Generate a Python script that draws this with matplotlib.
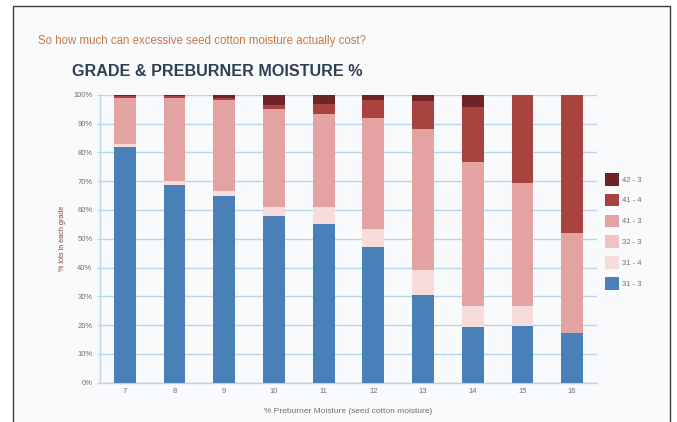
import numpy as np
import matplotlib
matplotlib.use("Agg")
import matplotlib.pyplot as plt
from matplotlib.patches import Rectangle, Patch

plt.rcParams['font.family'] = ['Liberation Sans', 'DejaVu Sans']

# preburner moisture levels and share of lots in each grade (%)
moisture = ['7', '8', '9', '10', '11', '12', '13', '14', '15', '16']
grade_31_3 = [82.0, 68.5, 64.7, 57.8, 55.2, 47.1, 30.3, 19.5, 19.8, 17.2]
grade_31_4 = [1.0, 1.5, 2.0, 3.1, 5.7, 6.4, 8.7, 7.3, 7.0, 0.0]
grade_32_3 = [0.0, 0.0, 0.0, 0.0, 0.0, 0.0, 0.0, 0.0, 0.0, 0.0]
grade_41_3 = [16.0, 29.0, 31.3, 34.0, 32.3, 38.5, 49.0, 49.8, 42.4, 34.8]
grade_41_4 = [0.5, 0.5, 1.0, 1.6, 3.5, 6.2, 9.7, 19.3, 30.8, 48.0]
grade_42_3 = [0.5, 0.5, 1.0, 3.5, 3.3, 1.8, 2.3, 4.1, 0.0, 0.0]

grade_names = ['31 - 3', '31 - 4', '32 - 3', '41 - 3', '41 - 4', '42 - 3']
grade_colors = ['#4a80b8', '#f7dcdc', '#f0c2c2', '#e3a3a3', '#a9433f', '#6c2427']
series = [grade_31_3, grade_31_4, grade_32_3, grade_41_3, grade_41_4, grade_42_3]

fig = plt.figure(figsize=(6.77, 4.22), dpi=100, facecolor='white')

# page panel behind the chart
fig.patches.append(Rectangle((13 / 677, -0.05), 657 / 677, 1.05 - 6 / 422,
                             transform=fig.transFigure, facecolor='#f9fafc',
                             edgecolor='#3a3a3a', linewidth=1.0, zorder=-5))

ax = fig.add_axes([100 / 677, 1 - 382.7 / 422, 497 / 677, 288 / 422])
ax.set_zorder(2)
ax.set_facecolor('none')

x = np.arange(len(moisture))
bottom = np.zeros(len(moisture))
for vals, col in zip(series, grade_colors):
    ax.bar(x, vals, width=0.44, bottom=bottom, color=col, linewidth=0, zorder=3)
    bottom += np.array(vals)

ax.set_xlim(-0.5, len(moisture) - 0.5)
ax.set_ylim(0, 100)
ax.set_yticks(np.arange(0, 101, 10))
ax.set_yticklabels([f'{v}%' for v in range(0, 101, 10)])
ax.set_xticks(x)
ax.set_xticklabels(moisture)

grid_col = '#b9d5ea'
ax.yaxis.grid(True, color=grid_col, linewidth=1.0, zorder=1)
ax.set_axisbelow(True)
for side in ['top', 'right']:
    ax.spines[side].set_visible(False)
for side in ['left', 'bottom']:
    ax.spines[side].set_color(grid_col)
    ax.spines[side].set_linewidth(1.0)
ax.tick_params(axis='both', colors=grid_col, labelcolor='#707070', labelsize=5.5, length=2)
ax.tick_params(axis='x', length=0, pad=4)

ax.set_ylabel('% lots in each grade', fontsize=5.2, color='#7a4a3a', labelpad=5)
ax.set_xlabel('% Preburner Moisture (seed cotton moisture)', fontsize=6,
              color='#707070', labelpad=9)

fig.text(38 / 677, 1 - 41 / 422,
         'So how much can excessive seed cotton moisture actually cost?',
         fontsize=8.3, color='#c97a40', va='center', ha='left')
fig.text(72 / 677, 1 - 72 / 422, 'GRADE & PREBURNER MOISTURE %',
         fontsize=11.6, fontweight='bold', color='#2f3f52', va='center', ha='left')

handles = [Patch(facecolor=c, edgecolor='none') for c in grade_colors][::-1]
fig.legend(handles, grade_names[::-1], loc='upper left',
           bbox_to_anchor=(598 / 677, 1 - 166 / 422), frameon=False,
           fontsize=5.5, labelcolor='#707070', handlelength=1.9,
           handleheight=2.2, labelspacing=1.05, handletextpad=0.4)

fig.savefig('out.png', dpi=100)
